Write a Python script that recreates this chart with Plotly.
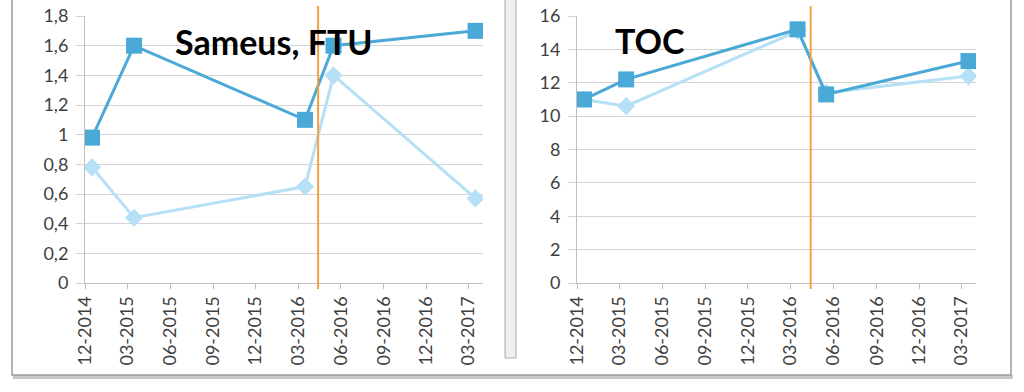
import plotly.graph_objects as go

W, H = 1024, 392

# ---- data ----
sample_dates = ["2014-12-16", "2015-03-16", "2016-03-16", "2016-05-16", "2017-03-16"]
ftu_series_a = [0.98, 1.60, 1.10, 1.60, 1.70]
ftu_series_b = [0.78, 0.44, 0.65, 1.40, 0.57]
toc_series_a = [11.0, 12.2, 15.2, 11.3, 13.3]
toc_series_b = [11.0, 10.6, 15.1, 11.4, 12.4]
event_date = "2016-04-13"

x_tickvals = ["2014-12-01", "2015-03-01", "2015-06-01", "2015-09-01", "2015-12-01",
              "2016-03-01", "2016-06-01", "2016-09-01", "2016-12-01", "2017-03-01"]
x_ticktext = ["12-2014", "03-2015", "06-2015", "09-2015", "12-2015",
              "03-2016", "06-2016", "09-2016", "12-2016", "03-2017"]
ftu_tickvals = [0, 0.2, 0.4, 0.6, 0.8, 1.0, 1.2, 1.4, 1.6, 1.8]
ftu_ticktext = ["0", "0,2", "0,4", "0,6", "0,8", "1", "1,2", "1,4", "1,6", "1,8"]
toc_tickvals = [0, 2, 4, 6, 8, 10, 12, 14, 16]
toc_ticktext = ["0", "2", "4", "6", "8", "10", "12", "14", "16"]
x_range = ["2014-12-01", "2017-04-01"]

DARK = "#4aa9d6"
LIGHT = "#b5e0f6"
ORANGE = "#f5a03f"
GRID = "#d4d4d4"
TXT = "#404040"
FONT = "Lato"


def px(x):
    return x / W


def py(y):
    return 1 - y / H


fig = go.Figure()

# left panel
fig.add_trace(go.Scatter(x=sample_dates, y=ftu_series_b, mode="lines+markers",
                         line=dict(color=LIGHT, width=3),
                         marker=dict(symbol="diamond", size=14, color=LIGHT),
                         xaxis="x", yaxis="y", showlegend=False))
fig.add_trace(go.Scatter(x=sample_dates, y=ftu_series_a, mode="lines+markers",
                         line=dict(color=DARK, width=3),
                         marker=dict(symbol="square", size=16, color=DARK),
                         xaxis="x", yaxis="y", showlegend=False))
# right panel
fig.add_trace(go.Scatter(x=sample_dates, y=toc_series_b, mode="lines+markers",
                         line=dict(color=LIGHT, width=3),
                         marker=dict(symbol="diamond", size=14, color=LIGHT),
                         xaxis="x2", yaxis="y2", showlegend=False))
fig.add_trace(go.Scatter(x=sample_dates, y=toc_series_a, mode="lines+markers",
                         line=dict(color=DARK, width=3),
                         marker=dict(symbol="square", size=16, color=DARK),
                         xaxis="x2", yaxis="y2", showlegend=False))

ydom = [py(283), py(16)]
common_x = dict(type="date", range=x_range, tickvals=x_tickvals, ticktext=x_ticktext,
                tickangle=-90, showgrid=False, showline=True, linecolor="#bfbfbf",
                ticks="outside", ticklen=5, tickcolor="#bfbfbf", automargin=False,
                tickfont=dict(family=FONT, size=18, color=TXT), zeroline=False)
common_y = dict(showgrid=True, gridcolor=GRID, gridwidth=1, showline=True,
                linecolor="#bfbfbf", ticks="outside", ticklen=8, tickcolor=GRID,
                automargin=False, ticklabelstandoff=4,
                tickfont=dict(family=FONT, size=18, color=TXT), zeroline=False)

fig.update_layout(
    template="none",
    width=W, height=H,
    margin=dict(l=0, r=0, t=0, b=0),
    paper_bgcolor="white", plot_bgcolor="white",
    xaxis=dict(domain=[px(85), px(483)], anchor="y", **common_x),
    yaxis=dict(domain=ydom, anchor="x", range=[0, 1.8], tickvals=ftu_tickvals,
               ticktext=ftu_ticktext, **common_y),
    xaxis2=dict(domain=[px(577), px(976)], anchor="y2", **common_x),
    yaxis2=dict(domain=ydom, anchor="x2", range=[0, 16], tickvals=toc_tickvals,
                ticktext=toc_ticktext, **common_y),
)

# event lines
for xr in ("x", "x2"):
    fig.add_shape(type="line", xref=xr, yref="paper", x0=event_date, x1=event_date,
                  y0=py(289), y1=py(6), line=dict(color=ORANGE, width=2))

# titles
fig.add_annotation(text="<b>Sameus, FTU</b>", xref="paper", yref="paper",
                   x=px(274), y=py(42), xanchor="center", yanchor="middle", showarrow=False,
                   font=dict(family=FONT, size=34, color="#000000"))
fig.add_annotation(text="<b>TOC</b>", xref="paper", yref="paper",
                   x=px(650), y=py(41), xanchor="center", yanchor="middle", showarrow=False,
                   font=dict(family=FONT, size=34, color="#000000"))

# frame
fig.add_shape(type="rect", xref="paper", yref="paper", x0=px(505), x1=px(516),
              y0=py(358), y1=py(-2), fillcolor="#efefef", line=dict(color="#a8a8a8", width=1),
              layer="below")
fig.add_shape(type="rect", xref="paper", yref="paper", x0=px(13), x1=px(1013),
              y0=py(379), y1=py(375), fillcolor="#c8c8c8", line=dict(width=0), layer="below")
fig.add_shape(type="path", xref="paper", yref="paper",
              path=f"M {px(12)} {py(-2)} L {px(12)} {py(375)} L {px(1011)} {py(375)} L {px(1011)} {py(-2)}",
              line=dict(color="#9a9a9a", width=1.5))

fig.write_html("out.html", config={"displayModeBar": False},
               post_script="document.body.style.margin='0';document.body.style.overflow='hidden';")
